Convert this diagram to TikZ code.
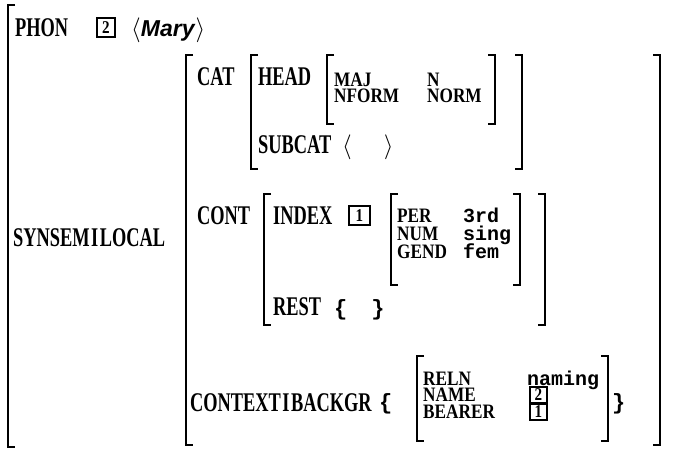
\documentclass[tikz,border=0pt]{standalone}
\usepackage{fontspec}
\newfontfamily\labbig[FakeStretch=0.68]{Liberation Serif}
\newfontfamily\labsmall[FakeStretch=0.84]{Liberation Serif}
\newfontfamily\valmono{Liberation Mono}
\newfontfamily\marysans{Liberation Sans}
\newcommand\avmbrk[4]{% x1 x2 ytop ybot
  \draw[brk] ({#1+7},#3) -- (#1,#3) -- (#1,#4) -- ({#1+7},#4);
  \draw[brk] ({#2-7},#3) -- (#2,#3) -- (#2,#4) -- ({#2-7},#4);}
\begin{document}
\begin{tikzpicture}[x=1pt,y=-1pt,
  brk/.style={line width=1.5pt, line cap=butt, line join=miter},
  big/.style={anchor=base west, inner sep=0pt, font=\labbig\bfseries\fontsize{27}{27}\selectfont},
  small/.style={anchor=base west, inner sep=0pt, text height=13pt, text depth=0pt, font=\labsmall\bfseries\fontsize{20.5}{20.5}\selectfont},
  val/.style={anchor=base west, inner sep=0pt, text height=13pt, text depth=2pt, font=\valmono\bfseries\fontsize{20}{20}\selectfont},
  tagbox/.style={draw, line width=1.2pt, inner sep=0pt, font=\labsmall\bfseries\fontsize{18}{18}\selectfont},
  delim/.style={anchor=base west, inner sep=0pt, font=\fontsize{25}{25}\selectfont}
]
\useasboundingbox[fill=white] (0,0) rectangle (684,451);

% outer bracket (left only visible)
\draw[brk] (15,5) -- (8,5) -- (8,447) -- (15,447);

% PHON
\node[big] (phon) at (15,36) {PHON};
\node[tagbox, minimum width=18pt, minimum height=19pt] (ptag) at (106,27.5) {2};
\node[delim] (mary) at (131,36) {$\langle$\marysans\itshape\bfseries\fontsize{23}{23}\selectfont Mary\hspace{1pt}$\rangle$};

% SYNSEM|LOCAL
\node[big] (synsem) at (13,246) {SYNSEM\hspace{1.5pt}I\hspace{1.5pt}LOCAL};
\avmbrk{186}{660}{55}{445}

% CAT
\node[big] (cat) at (197,85) {CAT};
\avmbrk{251}{522}{55}{169}
\node[big] (head) at (258,85) {HEAD};
\avmbrk{327}{495}{55}{124}
\node[small] (maj) at (334,86) {MAJ};
\node[small] (nform) at (334,102) {NFORM};
\node[small] (majv) at (427,86) {N};
\node[small] (nformv) at (427,102) {NORM};
\node[big] (subcat) at (258,153) {SUBCAT};
\node[delim] (sublist) at (342,153) {$\langle\quad\;\rangle$};

% CONT
\node[big] (cont) at (197,224) {CONT};
\avmbrk{264}{545}{194}{325}
\node[big] (index) at (273,224) {INDEX};
\node[tagbox, minimum width=21pt, minimum height=19pt] (itag) at (359.5,215.5) {1};
\avmbrk{391}{520}{194}{285}
\node[small] (per) at (397,222) {PER};
\node[small] (num) at (397,240) {NUM};
\node[small] (gend) at (397,258) {GEND};
\node[val] (perv) at (463,222) {3rd};
\node[val] (numv) at (463,240) {sing};
\node[val] (gendv) at (463,258) {fem};
\node[big] (rest) at (273,315) {REST};
\node[val] (restv) at (334,315) {\fontsize{22}{22}\selectfont\{\hspace{24pt}\}};

% CONTEXT|BACKGR
\node[big] (ctx) at (190,411) {CONTEXT\hspace{1.5pt}I\hspace{1.5pt}BACKGR};
\node[val] (lbrace) at (379,409) {\fontsize{22}{22}\selectfont\{};
\avmbrk{417}{608}{356}{441}
\node[small] (reln) at (423,385) {RELN};
\node[small] (name) at (423,401) {NAME};
\node[small] (bearer) at (423,418) {BEARER};
\node[val, text depth=0pt] (relnv) at (527,385) {naming};
\node[tagbox, minimum width=17pt, minimum height=16pt] (ntag) at (538.5,395) {2};
\node[tagbox, minimum width=17pt, minimum height=16pt] (btag) at (538.5,412) {1};
\node[val] (rbrace) at (612,409) {\fontsize{22}{22}\selectfont\}};
\end{tikzpicture}
\end{document}
